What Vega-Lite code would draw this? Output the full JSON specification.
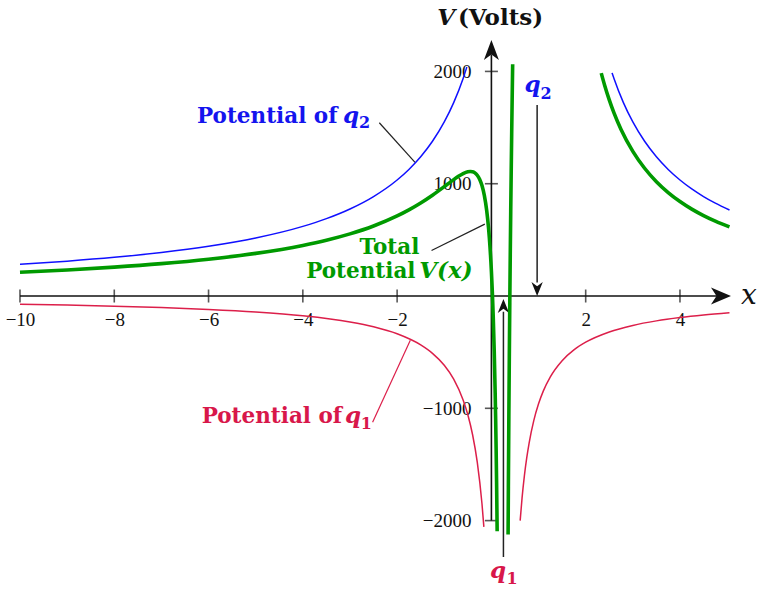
{
  "$schema": "https://vega.github.io/schema/vega-lite/v6.json",
  "width": 757,
  "height": 590,
  "autosize": {"type": "none"},
  "padding": 0,
  "background": "white",
  "config": {"view": {"stroke": null}},
  "datasets": {
    "blue": [
      {"b": "L", "x": -10, "v": 281.8}, {"b": "L", "x": -9, "v": 310}, {"b": "L", "x": -8, "v": 344.4}, {"b": "L", "x": -7, "v": 387.5},
      {"b": "L", "x": -6, "v": 442.9}, {"b": "L", "x": -5, "v": 516.7}, {"b": "L", "x": -4, "v": 620}, {"b": "L", "x": -3.5, "v": 688.9},
      {"b": "L", "x": -3, "v": 775}, {"b": "L", "x": -2.5, "v": 885.7}, {"b": "L", "x": -2, "v": 1033.3}, {"b": "L", "x": -1.75, "v": 1127.3},
      {"b": "L", "x": -1.5, "v": 1240}, {"b": "L", "x": -1.25, "v": 1377.8}, {"b": "L", "x": -1, "v": 1550}, {"b": "L", "x": -0.8, "v": 1722.2},
      {"b": "L", "x": -0.6, "v": 1937.5}, {"b": "L", "x": -0.52, "v": 2040},
      {"b": "R", "x": 2.56, "v": 1987}, {"b": "R", "x": 2.6, "v": 1937.5}, {"b": "R", "x": 2.8, "v": 1722.2}, {"b": "R", "x": 3, "v": 1550},
      {"b": "R", "x": 3.25, "v": 1377.8}, {"b": "R", "x": 3.5, "v": 1240}, {"b": "R", "x": 3.75, "v": 1127.3}, {"b": "R", "x": 4, "v": 1033.3},
      {"b": "R", "x": 4.25, "v": 953.8}, {"b": "R", "x": 4.5, "v": 885.7}, {"b": "R", "x": 4.75, "v": 826.7}, {"b": "R", "x": 5.05, "v": 765.4}
    ],
    "red": [
      {"b": "L", "x": -10, "v": -72.5}, {"b": "L", "x": -9, "v": -80.4}, {"b": "L", "x": -8, "v": -90.2}, {"b": "L", "x": -7, "v": -102.8},
      {"b": "L", "x": -6, "v": -119.4}, {"b": "L", "x": -5, "v": -142.3}, {"b": "L", "x": -4, "v": -176.2}, {"b": "L", "x": -3, "v": -231.3},
      {"b": "L", "x": -2.5, "v": -274.1}, {"b": "L", "x": -2, "v": -336.4}, {"b": "L", "x": -1.5, "v": -435.3}, {"b": "L", "x": -1.25, "v": -510.3},
      {"b": "L", "x": -1, "v": -616.7}, {"b": "L", "x": -0.8, "v": -740}, {"b": "L", "x": -0.6, "v": -925}, {"b": "L", "x": -0.5, "v": -1057.1},
      {"b": "L", "x": -0.4, "v": -1233.3}, {"b": "L", "x": -0.3, "v": -1480}, {"b": "L", "x": -0.2, "v": -1850}, {"b": "L", "x": -0.16, "v": -2055.6},
      {"b": "R", "x": 0.61, "v": -2000}, {"b": "R", "x": 0.65, "v": -1800}, {"b": "R", "x": 0.7, "v": -1600}, {"b": "R", "x": 0.75, "v": -1440},
      {"b": "R", "x": 0.8, "v": -1309.1}, {"b": "R", "x": 0.9, "v": -1107.7}, {"b": "R", "x": 1, "v": -960}, {"b": "R", "x": 1.1, "v": -847.1},
      {"b": "R", "x": 1.25, "v": -720}, {"b": "R", "x": 1.5, "v": -576}, {"b": "R", "x": 1.75, "v": -480}, {"b": "R", "x": 2, "v": -411.4},
      {"b": "R", "x": 2.5, "v": -320}, {"b": "R", "x": 3, "v": -261.8}, {"b": "R", "x": 3.5, "v": -221.5}, {"b": "R", "x": 4, "v": -192},
      {"b": "R", "x": 4.5, "v": -169.4}, {"b": "R", "x": 5.05, "v": -150}
    ],
    "green": [
      {"b": "A", "x": -10, "v": 211.6}, {"b": "A", "x": -9, "v": 232.2}, {"b": "A", "x": -8, "v": 257.2}, {"b": "A", "x": -7, "v": 288.2},
      {"b": "A", "x": -6, "v": 327.7}, {"b": "A", "x": -5, "v": 379.5}, {"b": "A", "x": -4, "v": 450.6}, {"b": "A", "x": -3.5, "v": 496.9},
      {"b": "A", "x": -3, "v": 553.5}, {"b": "A", "x": -2.5, "v": 623.9}, {"b": "A", "x": -2, "v": 713.3}, {"b": "A", "x": -1.75, "v": 767.3},
      {"b": "A", "x": -1.5, "v": 828.6}, {"b": "A", "x": -1.25, "v": 897.8}, {"b": "A", "x": -1, "v": 974}, {"b": "A", "x": -0.9, "v": 1005.5},
      {"b": "A", "x": -0.8, "v": 1036.5}, {"b": "A", "x": -0.7, "v": 1065.6}, {"b": "A", "x": -0.6, "v": 1090.4}, {"b": "A", "x": -0.5, "v": 1106.7},
      {"b": "A", "x": -0.45, "v": 1109.3}, {"b": "A", "x": -0.4, "v": 1106.6}, {"b": "A", "x": -0.35, "v": 1096.3}, {"b": "A", "x": -0.3, "v": 1075.5},
      {"b": "A", "x": -0.25, "v": 1040}, {"b": "A", "x": -0.2, "v": 983.3}, {"b": "A", "x": -0.15, "v": 895.7}, {"b": "A", "x": -0.1, "v": 761.1},
      {"b": "A", "x": -0.06, "v": 601.9}, {"b": "A", "x": -0.03, "v": 438.3}, {"b": "A", "x": 0, "v": 220}, {"b": "A", "x": 0.02, "v": 32.9},
      {"b": "A", "x": 0.04, "v": -199.4}, {"b": "A", "x": 0.06, "v": -491.6}, {"b": "A", "x": 0.08, "v": -865.7}, {"b": "A", "x": 0.09, "v": -1093.4},
      {"b": "A", "x": 0.1, "v": -1355.6}, {"b": "A", "x": 0.11, "v": -1659.8}, {"b": "A", "x": 0.122, "v": -2094},
      {"b": "B", "x": 0.354, "v": -2124}, {"b": "B", "x": 0.36, "v": -1701.7}, {"b": "B", "x": 0.37, "v": -1079.4}, {"b": "B", "x": 0.38, "v": -538.5},
      {"b": "B", "x": 0.39, "v": -60.9}, {"b": "B", "x": 0.4, "v": 366.7}, {"b": "B", "x": 0.41, "v": 754.2}, {"b": "B", "x": 0.42, "v": 1109.5},
      {"b": "B", "x": 0.43, "v": 1438.6}, {"b": "B", "x": 0.44, "v": 1746.2}, {"b": "B", "x": 0.451, "v": 2064},
      {"b": "C", "x": 2.33, "v": 1984.6}, {"b": "C", "x": 2.4, "v": 1879.4}, {"b": "C", "x": 2.5, "v": 1746.7}, {"b": "C", "x": 2.6, "v": 1631.1},
      {"b": "C", "x": 2.75, "v": 1483.4}, {"b": "C", "x": 3, "v": 1288.2}, {"b": "C", "x": 3.25, "v": 1137.8}, {"b": "C", "x": 3.5, "v": 1018.5},
      {"b": "C", "x": 3.75, "v": 921.6}, {"b": "C", "x": 4, "v": 841.3}, {"b": "C", "x": 4.25, "v": 773.8}, {"b": "C", "x": 4.5, "v": 716.3},
      {"b": "C", "x": 4.75, "v": 666.7}, {"b": "C", "x": 5.05, "v": 615.4}
    ],
    "xticks": [{"x": -10, "v": 0}, {"x": -8, "v": 0}, {"x": -6, "v": 0}, {"x": -4, "v": 0}, {"x": -2, "v": 0}, {"x": 2, "v": 0}, {"x": 4, "v": 0}],
    "yticks": [{"x": 0, "v": -2000}, {"x": 0, "v": -1000}, {"x": 0, "v": 1000}, {"x": 0, "v": 2000}],
    "axislines": [
      {"x": -10, "x2": 4.9, "v": 0, "v2": 0},
      {"x": 0, "x2": 0, "v": -2000, "v2": 2150}
    ],
    "qarrows": [
      {"x": 0.97, "x2": 0.97, "v": 1700, "v2": 120},
      {"x": 0.255, "x2": 0.255, "v": -2324, "v2": -140}
    ],
    "leadersBlack": [
      {"x": -2.378, "x2": -1.62, "v": 1543, "v2": 1190},
      {"x": -1.27, "x2": -0.14, "v": 405, "v2": 640}
    ],
    "leadersRed": [
      {"x": -2.52, "x2": -1.72, "v": -1125, "v2": -395}
    ]
  },
  "layer": [
    {
      "data": {"name": "axislines"},
      "mark": {"type": "rule", "color": "#111111", "strokeWidth": 1.6},
      "encoding": {
        "x": {"field": "x", "type": "quantitative", "scale": {"domain": [-10.424, 5.634], "nice": false, "zero": false},
          "axis": {"orient": "bottom", "offset": -294, "values": [-10, -8, -6, -4, -2, 2, 4], "format": "d", "title": null,
            "domain": false, "ticks": false, "tickSize": 0, "grid": false, "labelPadding": 14, "labelFont": "Liberation Serif",
            "labelFontSize": 19, "labelColor": "#111111", "labelFlush": false, "labelOverlap": false}},
        "x2": {"field": "x2"},
        "y": {"field": "v", "type": "quantitative", "scale": {"domain": [-2618, 2636], "nice": false, "zero": false},
          "axis": {"orient": "left", "offset": -491, "values": [-2000, -1000, 1000, 2000], "format": "d", "title": null,
            "domain": false, "ticks": false, "tickSize": 0, "grid": false, "labelPadding": 20, "labelFont": "Liberation Serif",
            "labelFontSize": 19, "labelColor": "#111111", "labelOverlap": false}},
        "y2": {"field": "v2"}
      }
    },
    {
      "data": {"name": "xticks"},
      "mark": {"type": "tick", "orient": "vertical", "color": "#111111", "size": 13, "thickness": 1.6},
      "encoding": {"x": {"field": "x", "type": "quantitative"}, "y": {"field": "v", "type": "quantitative"}}
    },
    {
      "data": {"name": "yticks"},
      "mark": {"type": "tick", "orient": "horizontal", "color": "#111111", "size": 13, "thickness": 1.6},
      "encoding": {"x": {"field": "x", "type": "quantitative"}, "y": {"field": "v", "type": "quantitative"}}
    },
    {
      "data": {"values": [{"x": 4.87, "v": 0}]},
      "mark": {"type": "point", "shape": "M1,0L-1,-0.85L-0.45,0L-1,0.85Z", "filled": true, "color": "#111111", "size": 400, "opacity": 1},
      "encoding": {"x": {"field": "x", "type": "quantitative"}, "y": {"field": "v", "type": "quantitative"}}
    },
    {
      "data": {"values": [{"x": 0, "v": 2190}]},
      "mark": {"type": "point", "shape": "M0,-1L-0.75,1L0,0.45L0.75,1Z", "filled": true, "color": "#111111", "size": 400, "opacity": 1},
      "encoding": {"x": {"field": "x", "type": "quantitative"}, "y": {"field": "v", "type": "quantitative"}}
    },
    {
      "data": {"name": "qarrows"},
      "mark": {"type": "rule", "color": "#222222", "strokeWidth": 1.5},
      "encoding": {"x": {"field": "x", "type": "quantitative"}, "x2": {"field": "x2"}, "y": {"field": "v", "type": "quantitative"}, "y2": {"field": "v2"}}
    },
    {
      "data": {"values": [{"x": 0.97, "v": 62}]},
      "mark": {"type": "point", "shape": "M0,1L-0.8,-1L0,-0.4L0.8,-1Z", "filled": true, "color": "#111111", "size": 200, "opacity": 1},
      "encoding": {"x": {"field": "x", "type": "quantitative"}, "y": {"field": "v", "type": "quantitative"}}
    },
    {
      "data": {"values": [{"x": 0.255, "v": -89}]},
      "mark": {"type": "point", "shape": "M0,-1L-0.8,1L0,0.4L0.8,1Z", "filled": true, "color": "#111111", "size": 200, "opacity": 1},
      "encoding": {"x": {"field": "x", "type": "quantitative"}, "y": {"field": "v", "type": "quantitative"}}
    },
    {
      "data": {"name": "leadersBlack"},
      "mark": {"type": "rule", "color": "#222222", "strokeWidth": 1.2},
      "encoding": {"x": {"field": "x", "type": "quantitative"}, "x2": {"field": "x2"}, "y": {"field": "v", "type": "quantitative"}, "y2": {"field": "v2"}}
    },
    {
      "data": {"name": "leadersRed"},
      "mark": {"type": "rule", "color": "#dc1f4a", "strokeWidth": 1.2},
      "encoding": {"x": {"field": "x", "type": "quantitative"}, "x2": {"field": "x2"}, "y": {"field": "v", "type": "quantitative"}, "y2": {"field": "v2"}}
    },
    {
      "data": {"name": "blue"},
      "mark": {"type": "line", "color": "#1010ff", "strokeWidth": 1.5, "interpolate": "monotone"},
      "encoding": {"x": {"field": "x", "type": "quantitative"}, "y": {"field": "v", "type": "quantitative"}, "detail": {"field": "b"}}
    },
    {
      "data": {"name": "red"},
      "mark": {"type": "line", "color": "#dc1f4a", "strokeWidth": 1.5, "interpolate": "monotone"},
      "encoding": {"x": {"field": "x", "type": "quantitative"}, "y": {"field": "v", "type": "quantitative"}, "detail": {"field": "b"}}
    },
    {
      "data": {"name": "green"},
      "mark": {"type": "line", "color": "#009a00", "strokeWidth": 3.6, "interpolate": "monotone"},
      "encoding": {"x": {"field": "x", "type": "quantitative"}, "y": {"field": "v", "type": "quantitative"}, "detail": {"field": "b"}}
    },
    {
      "data": {"values": [{"t": "Potential of", "x": -6.245, "v": 1540}]},
      "mark": {"type": "text", "align": "left", "baseline": "alphabetic", "font": "DejaVu Serif", "fontWeight": "bold", "fontSize": 21.5, "color": "#1414ee"},
      "encoding": {"x": {"field": "x", "type": "quantitative"}, "y": {"field": "v", "type": "quantitative"}, "text": {"field": "t"}}
    },
    {
      "data": {"values": [{"t": "q", "x": -3.148, "v": 1540}, {"t": "q", "x": 0.7, "v": 1817}]},
      "mark": {"type": "text", "align": "left", "baseline": "alphabetic", "font": "DejaVu Serif", "fontWeight": "bold", "fontStyle": "italic", "fontSize": 23, "color": "#1414ee"},
      "encoding": {"x": {"field": "x", "type": "quantitative"}, "y": {"field": "v", "type": "quantitative"}, "text": {"field": "t"}}
    },
    {
      "data": {"values": [{"t": "2", "x": -2.81, "v": 1493}, {"t": "2", "x": 1.04, "v": 1754}]},
      "mark": {"type": "text", "align": "left", "baseline": "alphabetic", "font": "DejaVu Serif", "fontWeight": "bold", "fontSize": 16, "color": "#1414ee"},
      "encoding": {"x": {"field": "x", "type": "quantitative"}, "y": {"field": "v", "type": "quantitative"}, "text": {"field": "t"}}
    },
    {
      "data": {"values": [{"t": "Total", "x": -2.8, "v": 371}, {"t": "Potential", "x": -3.93, "v": 158}]},
      "mark": {"type": "text", "align": "left", "baseline": "alphabetic", "font": "DejaVu Serif", "fontWeight": "bold", "fontSize": 21.5, "color": "#009a00"},
      "encoding": {"x": {"field": "x", "type": "quantitative"}, "y": {"field": "v", "type": "quantitative"}, "text": {"field": "t"}}
    },
    {
      "data": {"values": [{"t": "V(x)", "x": -1.53, "v": 158}]},
      "mark": {"type": "text", "align": "left", "baseline": "alphabetic", "font": "DejaVu Serif", "fontWeight": "bold", "fontStyle": "italic", "fontSize": 23, "color": "#009a00"},
      "encoding": {"x": {"field": "x", "type": "quantitative"}, "y": {"field": "v", "type": "quantitative"}, "text": {"field": "t"}}
    },
    {
      "data": {"values": [{"t": "Potential of", "x": -6.146, "v": -1134}]},
      "mark": {"type": "text", "align": "left", "baseline": "alphabetic", "font": "DejaVu Serif", "fontWeight": "bold", "fontSize": 21.5, "color": "#d8174a"},
      "encoding": {"x": {"field": "x", "type": "quantitative"}, "y": {"field": "v", "type": "quantitative"}, "text": {"field": "t"}}
    },
    {
      "data": {"values": [{"t": "q", "x": -3.106, "v": -1134}, {"t": "q", "x": -0.03, "v": -2511}]},
      "mark": {"type": "text", "align": "left", "baseline": "alphabetic", "font": "DejaVu Serif", "fontWeight": "bold", "fontStyle": "italic", "fontSize": 23, "color": "#d8174a"},
      "encoding": {"x": {"field": "x", "type": "quantitative"}, "y": {"field": "v", "type": "quantitative"}, "text": {"field": "t"}}
    },
    {
      "data": {"values": [{"t": "1", "x": -2.77, "v": -1187}, {"t": "1", "x": 0.32, "v": -2565}]},
      "mark": {"type": "text", "align": "left", "baseline": "alphabetic", "font": "DejaVu Serif", "fontWeight": "bold", "fontSize": 16, "color": "#d8174a"},
      "encoding": {"x": {"field": "x", "type": "quantitative"}, "y": {"field": "v", "type": "quantitative"}, "text": {"field": "t"}}
    },
    {
      "data": {"values": [{"t": "V", "x": -0.77, "v": 2413}]},
      "mark": {"type": "text", "align": "right", "baseline": "alphabetic", "font": "DejaVu Serif", "fontWeight": "bold", "fontStyle": "italic", "fontSize": 23, "color": "#111111"},
      "encoding": {"x": {"field": "x", "type": "quantitative"}, "y": {"field": "v", "type": "quantitative"}, "text": {"field": "t"}}
    },
    {
      "data": {"values": [{"t": "(Volts)", "x": -0.71, "v": 2413}]},
      "mark": {"type": "text", "align": "left", "baseline": "alphabetic", "font": "DejaVu Serif", "fontWeight": "bold", "fontSize": 23, "color": "#111111"},
      "encoding": {"x": {"field": "x", "type": "quantitative"}, "y": {"field": "v", "type": "quantitative"}, "text": {"field": "t"}}
    },
    {
      "data": {"values": [{"t": "x", "x": 5.46, "v": -75}]},
      "mark": {"type": "text", "align": "center", "baseline": "alphabetic", "font": "DejaVu Serif", "fontStyle": "italic", "fontSize": 28, "color": "#111111"},
      "encoding": {"x": {"field": "x", "type": "quantitative"}, "y": {"field": "v", "type": "quantitative"}, "text": {"field": "t"}}
    }
  ]
}
